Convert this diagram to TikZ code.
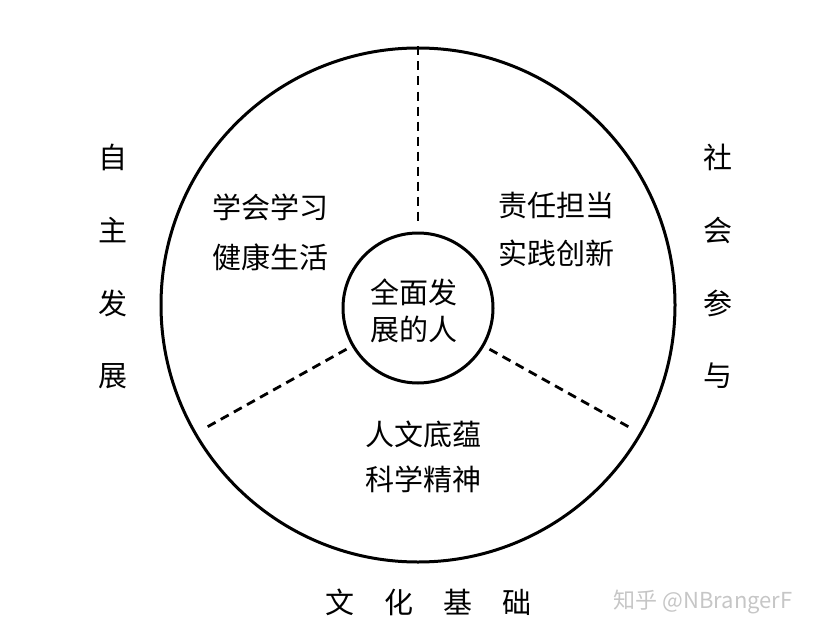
\documentclass[tikz,border=0pt]{standalone}
\usepackage{fontspec}
\newfontfamily\cjk{Noto Sans CJK SC}
\usetikzlibrary{positioning}

\begin{document}
\begin{tikzpicture}[x=1pt,y=-1pt,
  every node/.style={font=\cjk\fontsize{29}{48}\selectfont},
  ring/.style={draw,circle,line width=3pt,inner sep=0pt},
  divider/.style={line width=2.8pt,dash pattern=on 9pt off 6pt},
  pair/.style={align=center,inner sep=0pt}]
\useasboundingbox (0,0) rectangle (830,642);

% circles
\node[ring,minimum size=514pt] (rim) at (418,305) {};
\node[ring,minimum size=150pt] (core) at (418,308) {};

% dashed dividers
\draw[divider] (rim.north) -- ([yshift=6pt]core.north);
\draw[divider,shorten <=6pt,shorten >=12pt] (core.210) -- (rim.210);
\draw[divider,shorten <=6pt,shorten >=12pt] (core.330) -- (rim.330);

% sector texts
\node[pair,font=\cjk\fontsize{29}{37}\selectfont] (person) at (414,311) {全面发\\展的人};
\node[pair,font=\cjk\fontsize{29}{50}\selectfont] (learn) at (270,232) {学会学习\\健康生活};
\node[pair,font=\cjk\fontsize{29}{48}\selectfont] (duty) at (556,229) {责任担当\\实践创新};
\node[pair,font=\cjk\fontsize{29}{45}\selectfont] (culture) at (423,457) {人文底蕴\\科学精神};

% outside labels
\foreach \ch [count=\i] in {自,主,发,展}
  \node (self\i) at (113,84+73*\i) {\ch};
\foreach \ch [count=\i] in {社,会,参,与}
  \node (soc\i) at (718,84+73*\i) {\ch};
\foreach \ch [count=\i] in {文,化,基,础}
  \node (base\i) at (281+59*\i,602) {\ch};

\node[font=\cjk\fontsize{22}{26}\selectfont,text=gray!45] (mark) at (703,602) {知乎 @NBrangerF};
\end{tikzpicture}
\end{document}
